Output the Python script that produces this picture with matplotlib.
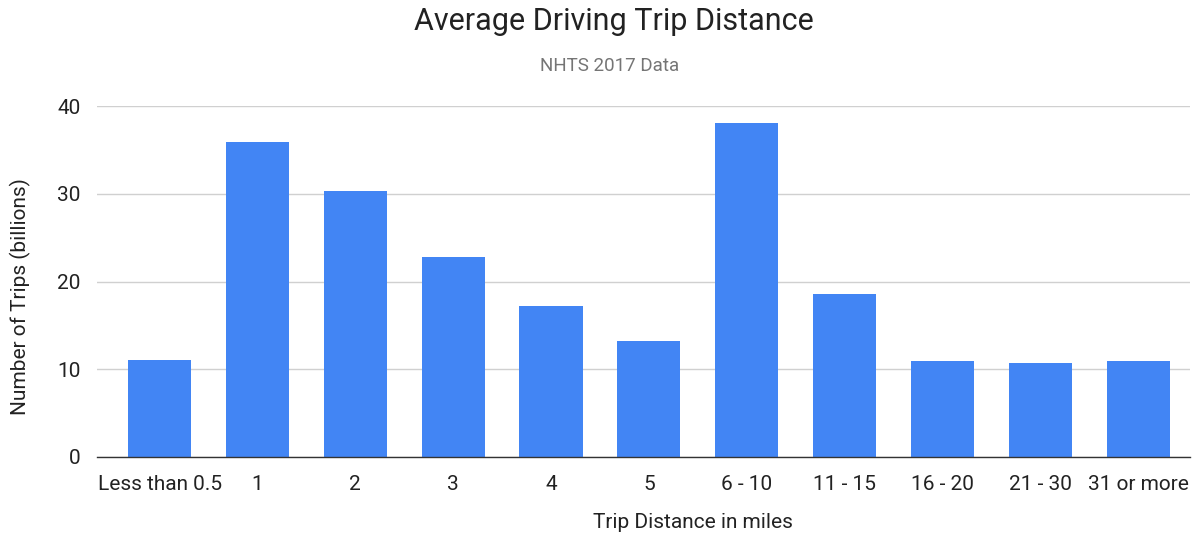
import matplotlib
matplotlib.use('Agg')
import matplotlib.pyplot as plt

plt.rcParams['font.family'] = ['Roboto', 'DejaVu Sans']

# trip counts by distance band (billions)
categories = ['Less than 0.5', '1', '2', '3', '4', '5', '6 - 10',
              '11 - 15', '16 - 20', '21 - 30', '31 or more']
trips = [11.1, 35.9, 30.3, 22.8, 17.2, 13.2, 38.1, 18.6, 10.9, 10.7, 10.9]
y_ticks = [0, 10, 20, 30, 40]

fig = plt.figure(figsize=(11.97, 5.35), dpi=100)
ax = fig.add_axes([97 / 1197, 1 - 457 / 535, (1190 - 97) / 1197, (457 - 106) / 535])

x = list(range(len(categories)))
ax.bar(x, trips, width=0.645, color='#4285F4', zorder=3)

ax.set_xlim(-0.64, 10.53)
ax.set_ylim(0, 40)
ax.set_yticks(y_ticks)
ax.set_yticklabels([str(t) for t in y_ticks])
ax.set_xticks(x)
ax.set_xticklabels(categories)
ax.tick_params(axis='both', length=0, labelsize=15, colors='#222222')
ax.tick_params(axis='x', pad=13)
ax.tick_params(axis='y', pad=12)

ax.grid(axis='y', color='#d0d0d0', linewidth=1, zorder=0)
for side in ['top', 'right', 'left']:
    ax.spines[side].set_visible(False)
ax.spines['bottom'].set_color('#333333')
ax.spines['bottom'].set_linewidth(1)
ax.spines['bottom'].set_zorder(4)

fig.text(614 / 1197, 1 - 22 / 535, 'Average Driving Trip Distance',
         ha='center', va='center', fontsize=22, color='#222222')
fig.text(610 / 1197, 1 - 66 / 535, 'NHTS 2017 Data',
         ha='center', va='center', fontsize=13.5, color='#757575')
fig.text(693 / 1197, 1 - 522 / 535, 'Trip Distance in miles',
         ha='center', va='center', fontsize=15, color='#222222')
fig.text(20 / 1197, 1 - 297 / 535, 'Number of Trips (billions)',
         ha='center', va='center', rotation=90, fontsize=15, color='#222222')

fig.savefig('out.png', dpi=100)
